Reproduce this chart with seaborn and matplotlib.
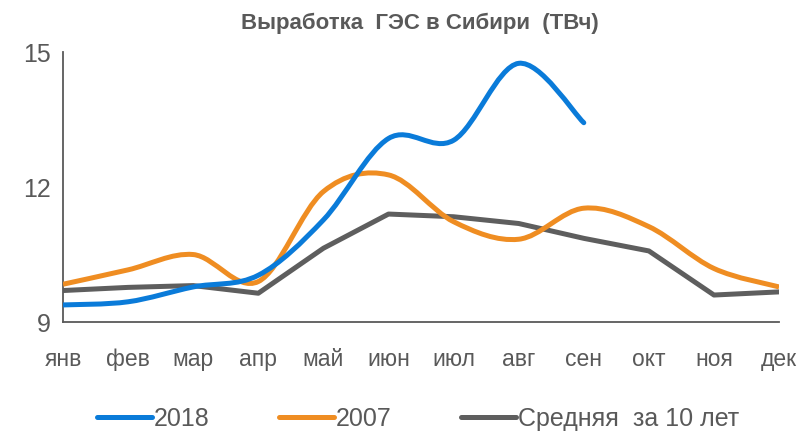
import matplotlib
matplotlib.use("Agg")
import matplotlib.pyplot as plt
import numpy as np
import pandas as pd
import seaborn as sns
from matplotlib.path import Path
from matplotlib.patches import PathPatch
from matplotlib.lines import Line2D

# Data
months = ["янв", "фев", "мар", "апр", "май", "июн",
          "июл", "авг", "сен", "окт", "ноя", "дек"]
gen_2018 = [9.38, 9.45, 9.78, 10.04, 11.27, 13.08, 13.04, 14.75, 13.43]
gen_2007 = [9.84, 10.16, 10.50, 9.90, 11.90, 12.27, 11.23, 10.84, 11.53, 11.12, 10.19, 9.78]
gen_avg = [9.70, 9.77, 9.81, 9.64, 10.64, 11.40, 11.34, 11.19, 10.86, 10.58, 9.60, 9.67]

BLUE = "#0A7BD9"
ORANGE = "#EF8D22"
GREY = "#5E5E5E"
TEXT = "#595959"

sns.set_theme(style="white")
plt.rcParams["font.family"] = ["Liberation Sans Narrow", "Liberation Sans", "DejaVu Sans"]


def smooth_path(values):
    # Excel-like smoothed line: cubic Bezier segments through the points
    pts = np.column_stack([np.arange(len(values)), values]).astype(float)
    verts = [tuple(pts[0])]
    codes = [Path.MOVETO]
    for i in range(len(pts) - 1):
        p0 = pts[max(i - 1, 0)]
        p1 = pts[i]
        p2 = pts[i + 1]
        p3 = pts[min(i + 2, len(pts) - 1)]
        c1 = p1 + (p2 - p0) / 6.0
        c2 = p2 - (p3 - p1) / 6.0
        verts += [tuple(c1), tuple(c2), tuple(p2)]
        codes += [Path.CURVE4] * 3
    return Path(verts, codes)


fig = plt.figure(figsize=(8.04, 4.34), dpi=100)
ax = fig.add_axes([0.0784, 0.258, 0.8906, 0.622])

# 10-year average: straight segments
df_avg = pd.DataFrame({"x": np.arange(len(gen_avg)), "y": gen_avg})
sns.lineplot(data=df_avg, x="x", y="y", ax=ax, color=GREY, linewidth=3.6,
             solid_capstyle="butt", zorder=2)

# 2007 and 2018: smoothed
ax.add_patch(PathPatch(smooth_path(gen_2007), facecolor="none", edgecolor=ORANGE,
                       linewidth=3.6, capstyle="butt", zorder=3))
ax.add_patch(PathPatch(smooth_path(gen_2018), facecolor="none", edgecolor=BLUE,
                       linewidth=3.6, capstyle="round", zorder=4))

ax.set_xlim(0, 11)
ax.set_ylim(9, 15)
ax.set_xticks(range(len(months)))
ax.set_xticklabels(months)
ax.set_yticks([9, 12, 15])
ax.set_xlabel("")
ax.set_ylabel("")

for side in ["top", "right"]:
    ax.spines[side].set_visible(False)
for side in ["left", "bottom"]:
    ax.spines[side].set_color(TEXT)
    ax.spines[side].set_linewidth(1.3)

ax.tick_params(axis="both", which="major", direction="out", length=6, width=1.3,
               color=TEXT, labelcolor=TEXT)
ax.tick_params(axis="x", pad=13, labelsize=16.5)
ax.tick_params(axis="y", pad=3, labelsize=18)

fig.text(0.522, 0.947, "Выработка  ГЭС в Сибири  (ТВч)", ha="center", va="center",
         fontsize=16, fontweight="bold", color=TEXT)

handles = [Line2D([], [], color=BLUE, linewidth=3.6),
           Line2D([], [], color=ORANGE, linewidth=3.6),
           Line2D([], [], color=GREY, linewidth=3.6)]
labels = ["2018", "2007", "Средняя  за 10 лет"]
leg = fig.legend(handles, labels, loc="center", bbox_to_anchor=(0.52, 0.035),
                 ncol=3, frameon=False, fontsize=18, handlelength=2.2,
                 handletextpad=0.05, columnspacing=2.8)
for t in leg.get_texts():
    t.set_color(TEXT)

fig.savefig("out.png", dpi=100)
